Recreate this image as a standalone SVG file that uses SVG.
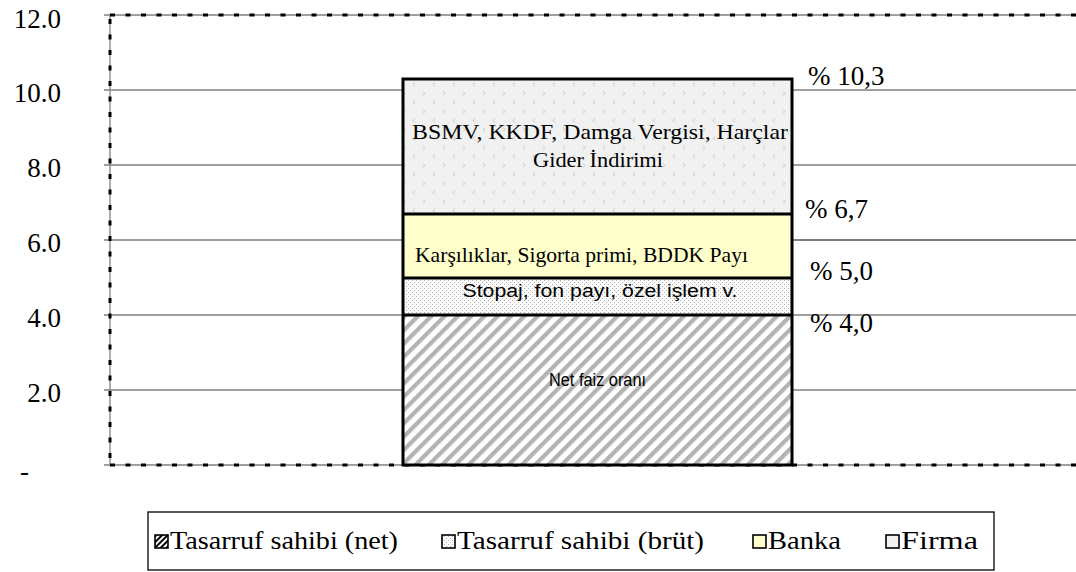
<svg xmlns="http://www.w3.org/2000/svg" width="1076" height="572" viewBox="0 0 1076 572">
<style>
.ax{font-family:"Liberation Serif","Times New Roman",serif;font-size:27px;fill:#000}
.pct{font-family:"Liberation Serif","Times New Roman",serif;font-size:27px;fill:#000}
.bs{font-family:"Liberation Serif","Times New Roman",serif;font-size:21px;fill:#000}
.ss{font-family:"Liberation Sans",Arial,sans-serif;font-size:18px;fill:#000}
.lg{font-family:"Liberation Serif","Times New Roman",serif;font-size:25px;fill:#000}
.grid{stroke:#7f7f7f;stroke-width:1.3;fill:none}
.frame{stroke:#808080;stroke-width:1.3;fill:none}
.dash{stroke:#000;stroke-width:3;stroke-dasharray:5 10.5;fill:none}
.seg{stroke:#000;stroke-width:3}
.sw{stroke:#000;stroke-width:1.6}
</style>
<defs>
<pattern id="hatch" patternUnits="userSpaceOnUse" width="9.4" height="9.4" patternTransform="rotate(45)">
<rect width="9.4" height="9.4" fill="#fff"/>
<rect x="0" y="0" width="4.2" height="9.4" fill="#b3b3b3"/>
</pattern>
<pattern id="dots" patternUnits="userSpaceOnUse" width="4" height="4">
<rect width="4" height="4" fill="#fbfbfb"/>
<rect x="0" y="0" width="1" height="1" fill="#b0b0b0"/>
<rect x="2" y="2" width="1" height="1" fill="#b0b0b0"/>
</pattern>
<pattern id="chev" patternUnits="userSpaceOnUse" width="20" height="18">
<rect width="20" height="18" fill="#f1f1f1"/>
<path d="M3,1.5 L5,3.5 L3,5.5" stroke="#c4c4c4" stroke-width="1" fill="none"/>
<path d="M15,10.5 L13,12.5 L15,14.5" stroke="#c4c4c4" stroke-width="1" fill="none"/>
</pattern>
<pattern id="hatchL" patternUnits="userSpaceOnUse" width="4" height="4" patternTransform="rotate(45)">
<rect width="4" height="4" fill="#fff"/>
<rect width="2" height="4" fill="#000"/>
</pattern>
</defs>

<g id="axes">
<line class="grid" x1="104" y1="90" x2="403" y2="90"/>
<line class="grid" x1="792" y1="90" x2="1076" y2="90"/>
<line class="grid" x1="104" y1="165" x2="403" y2="165"/>
<line class="grid" x1="792" y1="165" x2="1076" y2="165"/>
<line class="grid" x1="104" y1="240" x2="403" y2="240"/>
<line x1="792" y1="240" x2="1076" y2="240" stroke="#000" stroke-width="1.2"/>
<line class="grid" x1="104" y1="315" x2="403" y2="315"/>
<line class="grid" x1="792" y1="315" x2="1076" y2="315"/>
<line class="grid" x1="104" y1="390" x2="403" y2="390"/>
<line class="grid" x1="792" y1="390" x2="1076" y2="390"/>
<line class="frame" x1="104" y1="15" x2="1076" y2="15"/>
<line class="frame" x1="104" y1="465" x2="1076" y2="465"/>
<line class="frame" x1="110" y1="15" x2="110" y2="465"/>
<line class="dash" x1="110" y1="15" x2="1076" y2="15"/>
<line class="dash" x1="110" y1="465" x2="1076" y2="465"/>
<line class="dash" x1="110" y1="19" x2="110" y2="465"/>
<text class="ax" x="61" y="28" text-anchor="end">12.0</text>
<text class="ax" x="61" y="102" text-anchor="end">10.0</text>
<text class="ax" x="61" y="177" text-anchor="end">8.0</text>
<text class="ax" x="61" y="252" text-anchor="end">6.0</text>
<text class="ax" x="61" y="327" text-anchor="end">4.0</text>
<text class="ax" x="61" y="402" text-anchor="end">2.0</text>
<text class="ax" x="20" y="480">-</text>
</g>

<g id="net">
<rect x="403" y="315" width="389" height="150" fill="url(#hatch)"/>
<text class="ss" x="597.5" y="386" text-anchor="middle" textLength="97" lengthAdjust="spacingAndGlyphs">Net faiz oranı</text>
</g>
<g id="brut">
<rect x="403" y="278" width="389" height="37" fill="url(#dots)"/>
<text class="ss" x="600" y="297" text-anchor="middle" textLength="275" lengthAdjust="spacingAndGlyphs">Stopaj, fon payı, özel işlem v.</text>
</g>
<g id="banka">
<rect x="403" y="214" width="389" height="64" fill="#ffffcc"/>
<text class="bs" x="581.5" y="262" text-anchor="middle" textLength="333" lengthAdjust="spacingAndGlyphs">Karşılıklar, Sigorta primi, BDDK Payı</text>
</g>
<g id="firma">
<rect x="403" y="79" width="389" height="135" fill="url(#chev)"/>
<text class="bs" x="600" y="139" text-anchor="middle" textLength="376" lengthAdjust="spacingAndGlyphs">BSMV, KKDF, Damga Vergisi, Harçlar</text>
<text class="bs" x="598" y="167" text-anchor="middle" textLength="130" lengthAdjust="spacingAndGlyphs">Gider İndirimi</text>
</g>

<g id="connectors">
<rect x="403" y="79" width="389" height="386" fill="none" stroke="#000" stroke-width="3"/>
<line class="seg" x1="403" y1="214" x2="792" y2="214"/>
<line class="seg" x1="403" y1="278" x2="792" y2="278"/>
<line class="seg" x1="403" y1="315" x2="792" y2="315"/>
</g>

<g id="labels">
<text class="pct" x="808" y="85">% 10,3</text>
<text class="pct" x="805" y="218">% 6,7</text>
<text class="pct" x="810" y="280">% 5,0</text>
<text class="pct" x="810" y="332">% 4,0</text>
</g>

<g id="legend">
<rect x="148" y="512" width="846" height="58" fill="#fff" stroke="#000" stroke-width="1.3"/>
<rect x="155" y="535" width="13" height="13" fill="url(#hatchL)" class="sw"/>
<text class="lg" x="170" y="549" textLength="228" lengthAdjust="spacingAndGlyphs">Tasarruf sahibi (net)</text>
<rect x="442" y="535" width="13" height="13" fill="url(#dots)" class="sw"/>
<text class="lg" x="457" y="549" textLength="247" lengthAdjust="spacingAndGlyphs">Tasarruf sahibi (brüt)</text>
<rect x="753" y="535" width="13" height="13" fill="#ffffcc" class="sw"/>
<text class="lg" x="768" y="549" textLength="73" lengthAdjust="spacingAndGlyphs">Banka</text>
<rect x="886" y="535" width="13" height="13" fill="#f1f1f1" class="sw"/>
<text class="lg" x="901" y="549" textLength="77" lengthAdjust="spacingAndGlyphs">Firma</text>
</g>
</svg>
